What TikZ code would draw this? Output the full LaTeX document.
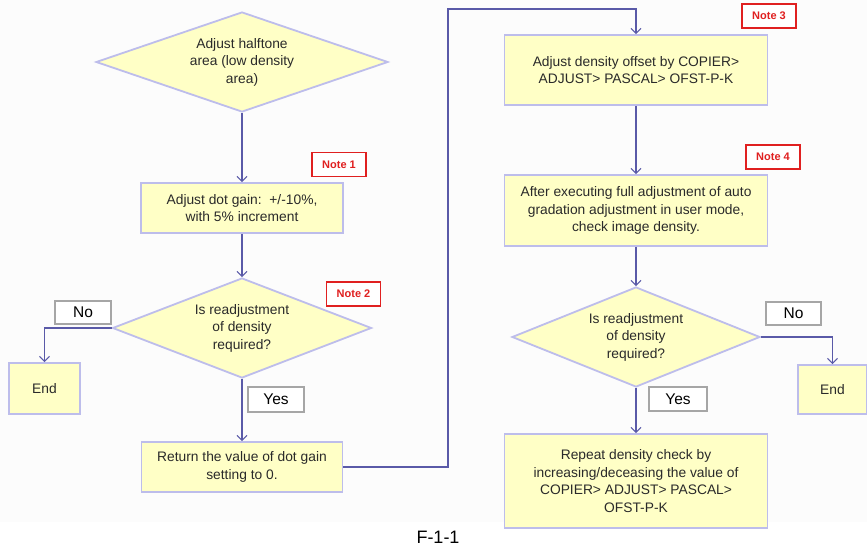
\documentclass[tikz,border=0pt]{standalone}
\usepackage{fontspec}
\setmainfont{Liberation Sans}
\usetikzlibrary{shapes.geometric,arrows.meta}
\definecolor{boxfill}{HTML}{FFFFC6}
\definecolor{boxborder}{HTML}{BDBDEB}
\definecolor{arrowc}{HTML}{5A5AA8}
\definecolor{txt}{HTML}{2A2A2A}
\definecolor{notered}{HTML}{E02020}
\definecolor{labgray}{HTML}{A6A6A6}
\definecolor{bg}{HTML}{FCFCFC}
\tikzset{
  box/.style={draw=boxborder, fill=boxfill, line width=1.8pt, inner sep=0pt, align=center,
    text=txt, font=\fontsize{13.8}{17.5}\selectfont},
  dia/.style={box, shape=diamond},
  notebox/.style={draw=notered, fill=white, line width=1.2pt, inner sep=0pt,
    minimum width=54pt, minimum height=24pt, text=notered, font=\bfseries\fontsize{11}{13}\selectfont},
  lab/.style={draw=labgray, fill=white, line width=1.8pt, inner sep=0pt,
    minimum height=23pt, text=black, font=\fontsize{15.5}{17}\selectfont},
  arr/.style={draw=arrowc, line width=1.1pt, -{Straight Barb[length=5pt,width=10pt]}}
}
\begin{document}
\begin{tikzpicture}[x=1pt,y=-1pt]
\useasboundingbox (0,0) rectangle (867,546);
\fill[bg] (0,0) rectangle (867,522);
% left column
\node[dia, minimum width=292pt, minimum height=100pt, aspect=2.92] (d1) at (242,62)
  {Adjust halftone\\area (low density\\area)};
\node[box, minimum width=202pt, minimum height=50pt] (b1) at (242,208)
  {Adjust dot gain:\ \ +/-10\%,\\with 5\% increment};
\node[notebox] (n1) at (339,164.5) {Note 1};
\node[dia, minimum width=259pt, minimum height=100pt, aspect=2.59] (d2) at (242,328)
  {Is readjustment\\of density\\required?};
\node[notebox] (n2) at (353.5,294) {Note 2};
\node[lab, minimum width=56pt] (no1) at (83,312.5) {No};
\node[box, minimum width=71pt, minimum height=51pt] (e1) at (44.5,388.5) {End};
\node[lab, minimum width=56pt, minimum height=25pt] (yes1) at (276,399.5) {Yes};
\node[box, minimum width=201pt, minimum height=50pt] (b2) at (242,467)
  {Return the value of dot gain\\setting to 0.};
% right column
\node[box, minimum width=263pt, minimum height=70pt] (b3) at (636,70)
  {Adjust density offset by COPIER>\\ADJUST> PASCAL> OFST-P-K};
\node[notebox] (n3) at (769,16) {Note 3};
\node[box, minimum width=263pt, minimum height=71pt] (b4) at (636,210.5)
  {After executing full adjustment of auto\\gradation adjustment in user mode,\\check image density.};
\node[notebox] (n4) at (773,157) {Note 4};
\node[dia, minimum width=248pt, minimum height=100pt, aspect=2.48] (d3) at (636,337)
  {Is readjustment\\of density\\required?};
\node[lab, minimum width=55pt] (no2) at (793.5,313.5) {No};
\node[box, minimum width=69pt, minimum height=49pt] (e2) at (832.5,389.5) {End};
\node[lab, minimum width=58pt, minimum height=24pt] (yes2) at (678,399) {Yes};
\node[box, minimum width=263pt, minimum height=94pt] (b5) at (636,481)
  {Repeat density check by\\increasing/deceasing the value of\\COPIER> ADJUST> PASCAL>\\OFST-P-K};
\coordinate (turn) at (448,9);
% connectors
\draw[arr] (d1.south) -- (b1.north);
\draw[arr] (b1.south) -- (d2.north);
\draw[arr] (d2.west) -| (e1.north);
\draw[arr] (d2.south) -- (b2.north);
\draw[arr] (b2.east) -| (turn) -| (b3.north);
\draw[arr] (b3.south) -- (b4.north);
\draw[arr] (b4.south) -- (d3.north);
\draw[arr] (d3.east) -| (e2.north);
\draw[arr] (d3.south) -- (b5.north);
\node[anchor=base, font=\fontsize{18}{20}\selectfont, text=black] (cap) at (438,543) {F-1-1};
\end{tikzpicture}
\end{document}
